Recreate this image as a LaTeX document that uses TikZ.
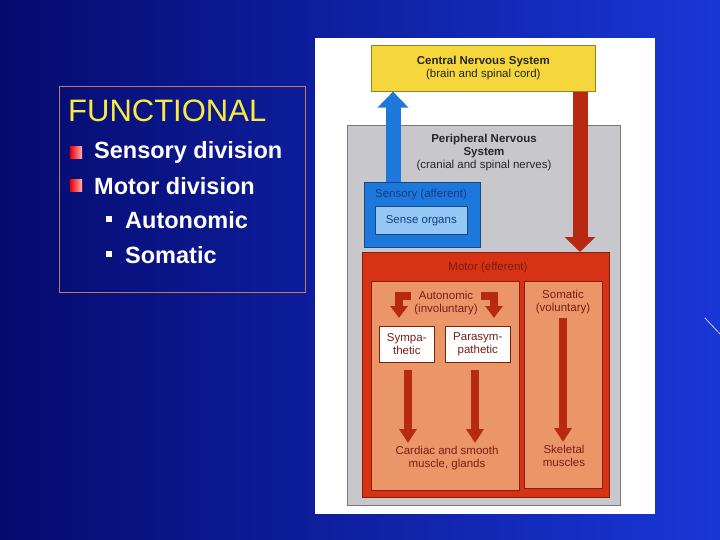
\documentclass[tikz,border=0pt]{standalone}
\usepackage{fontspec}
\setmainfont{Liberation Sans}
\usetikzlibrary{arrows.meta}
\definecolor{cnsY}{RGB}{245,215,60}
\definecolor{pnsG}{RGB}{200,200,204}
\definecolor{sBlue}{RGB}{30,120,220}
\definecolor{sLight}{RGB}{150,200,245}
\definecolor{mRed}{RGB}{215,50,20}
\definecolor{mLight}{RGB}{235,150,105}
\definecolor{txtRed}{RGB}{120,30,20}
\definecolor{txtBlue}{RGB}{20,60,130}
\definecolor{funY}{RGB}{250,235,60}
\begin{document}
\begin{tikzpicture}[x=1pt,y=-1pt,
  box/.style={draw=#1!60!black,line width=0.6pt,inner sep=0pt},
  lbl/.style={font=\fontsize{11.5}{13}\selectfont,align=center,text=black!85},
  redarr/.style={draw=mRed!85!black,line width=#1},
  bul/.style={font=\bfseries\fontsize{23.5}{26}\selectfont,text=white,anchor=west,inner sep=0pt}]
\useasboundingbox (0,0) rectangle (720,540);
\shade[left color={rgb,255:red,5;green,10;blue,110},right color={rgb,255:red,25;green,55;blue,215}] (0,0) rectangle (720,540);
\draw[white!80!blue,line width=0.8pt] (705,318) -- (720,334);
% left panel
\node[draw={rgb,255:red,200;green,120;blue,90},line width=0.6pt,minimum width=246pt,minimum height=206pt,anchor=north west] (panel) at (59,86) {};
\node[anchor=west,inner sep=0pt,text=funY,font=\fontsize{31}{34}\selectfont] (fun) at (68,111) {FUNCTIONAL};
\node[left color=red!90!black,right color=red!30!white,minimum size=12pt,inner sep=0pt] (b1) at (76,153) {};
\node[left color=red!90!black,right color=red!30!white,minimum size=12pt,inner sep=0pt] (b2) at (76,186) {};
\node[bul] (t1) at (94,152) {Sensory division};
\node[bul] (t2) at (94,186) {Motor division};
\node[fill=white,minimum size=6pt,inner sep=0pt] (b3) at (109,219) {};
\node[fill=white,minimum size=6pt,inner sep=0pt] (b4) at (109,254) {};
\node[bul] (t3) at (125,220) {Autonomic};
\node[bul] (t4) at (125,255) {Somatic};
% diagram
\fill[white] (315,38) rectangle (655,514);
\node[box=pnsG,fill=pnsG,minimum width=273pt,minimum height=380pt,anchor=north west] (pns) at (347,125) {};
\node[lbl,anchor=north] (pnst) at (484,131) {\textbf{Peripheral Nervous}\\\textbf{System}\\(cranial and spinal nerves)};
\node[box=cnsY,fill=cnsY,minimum width=224pt,minimum height=46pt,anchor=north west] (cns) at (371,45) {};
\node[lbl] (cnst) at (cns.center) {\textbf{Central Nervous System}\\(brain and spinal cord)};
\node[box=sBlue,fill=sBlue,minimum width=116pt,minimum height=65pt,anchor=north west] (sens) at (364,182) {};
\node[lbl,text=txtBlue,anchor=north] (senst) at (421,186) {Sensory (afferent)};
\node[box=sBlue,fill=sLight,minimum width=92pt,minimum height=28pt,anchor=north west,lbl,text=txtBlue] (org) at (375,206) {Sense organs};
\node[box=mRed,fill=mRed,minimum width=247pt,minimum height=245pt,anchor=north west] (mot) at (362,252) {};
\node[lbl,text=txtRed,anchor=north] (mott) at (488,259) {Motor (efferent)};
\node[box=mRed,fill=mLight,minimum width=148pt,minimum height=209pt,anchor=north west] (aut) at (371,281) {};
\node[box=mRed,fill=mLight,minimum width=78pt,minimum height=207pt,anchor=north west] (som) at (524,281) {};
\node[lbl,text=txtRed,anchor=north] (autt) at (446,288) {Autonomic\\(involuntary)};
\node[lbl,text=txtRed,anchor=north] (somt) at (563,287) {Somatic\\(voluntary)};
\node[box=mRed,fill=white,minimum width=55pt,minimum height=36pt,anchor=north west,lbl,text=txtRed] (sym) at (379,326) {Sympa-\\thetic};
\node[box=mRed,fill=white,minimum width=65pt,minimum height=36pt,anchor=north west,lbl,text=txtRed] (par) at (445,326) {Parasym-\\pathetic};
\node[lbl,text=txtRed,anchor=north] (card) at (447,443) {Cardiac and smooth\\muscle, glands};
\node[lbl,text=txtRed,anchor=north] (skel) at (564,442) {Skeletal\\muscles};
% connectors
\coordinate (bx) at (393,0);
\coordinate (rx) at (580,0);
\draw[draw=sBlue,line width=15pt,-{Triangle[width=30pt,length=16pt]}] (sens.north -| bx) -- (cns.south -| bx);
\draw[redarr=15pt,-{Triangle[width=30pt,length=15pt]}] (cns.south -| rx) -- (mot.north -| rx);
\draw[redarr=8pt,-{Triangle[width=17pt,length=12pt]}] (autt.west |- 0,296) -- (399,296) -- (399,318);
\draw[redarr=8pt,-{Triangle[width=17pt,length=12pt]}] (autt.east |- 0,296) -- (494,296) -- (494,318);
\coordinate (s1) at (408,370);
\coordinate (s2) at (475,370);
\coordinate (s3) at (563,318);
\draw[redarr=8pt,-{Triangle[width=17pt,length=14pt]}] (s1) -- (card.north -| s1);
\draw[redarr=8pt,-{Triangle[width=17pt,length=14pt]}] (s2) -- (card.north -| s2);
\draw[redarr=8pt,-{Triangle[width=17pt,length=14pt]}] (s3) -- (skel.north -| s3);
\end{tikzpicture}
\end{document}
